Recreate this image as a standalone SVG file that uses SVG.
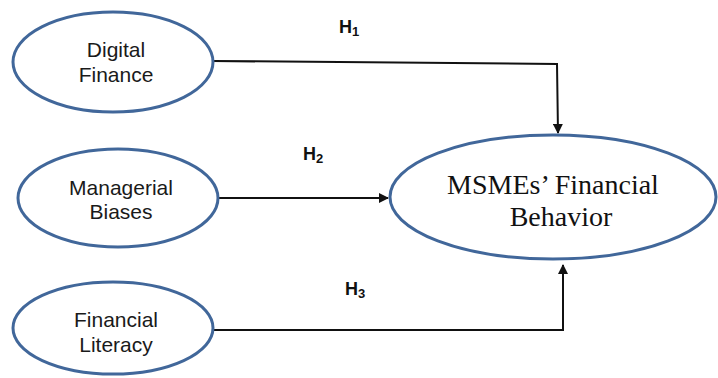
<svg xmlns="http://www.w3.org/2000/svg" width="718" height="378" viewBox="0 0 718 378">
<style>
.node{fill:#fff;stroke:#41679a;stroke-width:3}
.lbl{font-family:"Liberation Sans",Arial,sans-serif;font-size:21px;fill:#1a1a1a;text-anchor:middle}
.big{font-family:"Liberation Serif","Times New Roman",serif;font-size:28px;fill:#111;text-anchor:middle}
.h{font-family:"Liberation Sans",Arial,sans-serif;font-size:18px;font-weight:bold;fill:#111}
.sub{font-size:13px}
.edge{fill:none;stroke:#111;stroke-width:2}
</style>
<defs>
<marker id="arr" markerWidth="10" markerHeight="10" refX="9" refY="5" orient="auto" markerUnits="userSpaceOnUse">
<path d="M0,0 L10,5 L0,10 Z" fill="#111"/>
</marker>
</defs>
<g id="connectors">
<polyline class="edge" points="213,61 557,64 558,133" marker-end="url(#arr)"/>
<line class="edge" x1="218" y1="198" x2="388" y2="198" marker-end="url(#arr)"/>
<polyline class="edge" points="213,330 563,330 563,265" marker-end="url(#arr)"/>
<text class="h" x="339" y="33">H<tspan class="sub" dy="3">1</tspan></text>
<text class="h" x="303" y="160">H<tspan class="sub" dy="3">2</tspan></text>
<text class="h" x="345" y="295">H<tspan class="sub" dy="3">3</tspan></text>
</g>
<g id="digital-finance">
<ellipse class="node" cx="113" cy="62" rx="100" ry="50"/>
<text class="lbl" x="116" y="57">Digital</text>
<text class="lbl" x="116" y="82">Finance</text>
</g>
<g id="managerial-biases">
<ellipse class="node" cx="118" cy="198" rx="100" ry="49"/>
<text class="lbl" x="121" y="195">Managerial</text>
<text class="lbl" x="121" y="219">Biases</text>
</g>
<g id="financial-literacy">
<ellipse class="node" cx="113" cy="328" rx="100" ry="46"/>
<text class="lbl" x="116" y="327">Financial</text>
<text class="lbl" x="116" y="352">Literacy</text>
</g>
<g id="msmes-financial-behavior">
<ellipse class="node" cx="553" cy="197" rx="163" ry="62"/>
<text class="big" x="553" y="194">MSMEs’ Financial</text>
<text class="big" x="561" y="226">Behavior</text>
</g>
</svg>
